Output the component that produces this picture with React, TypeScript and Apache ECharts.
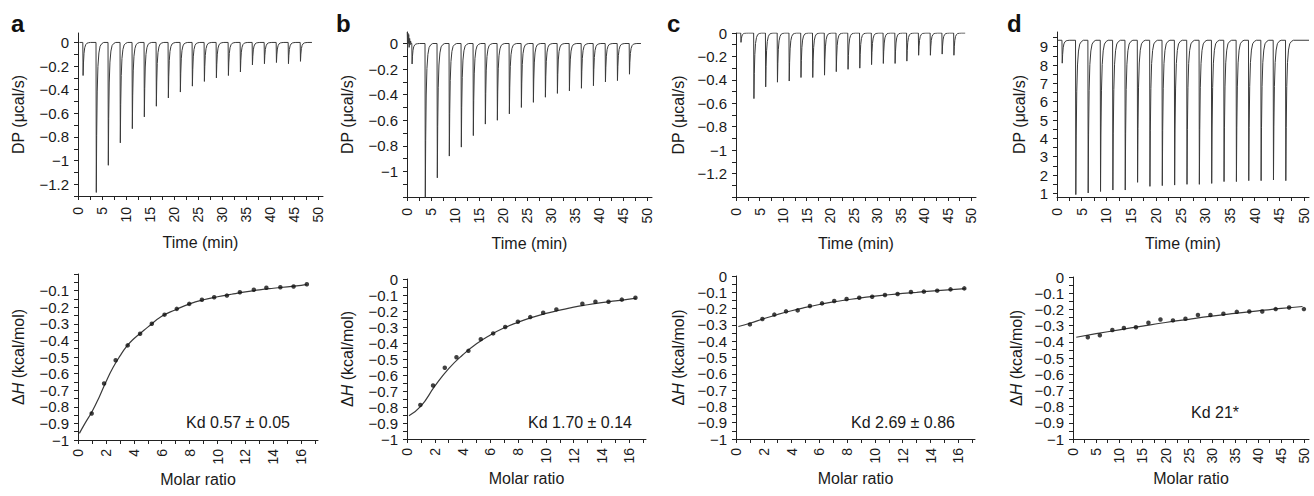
import React, { useEffect, useRef } from "react";
import * as echarts from "echarts";

// ---------- thermogram data (top row) ----------
const INJ_TIMES = [1.0, 3.75, 6.25, 8.75, 11.25, 13.75, 16.25, 18.75, 21.25, 23.75, 26.25, 28.75, 31.25, 33.75, 36.25, 38.75, 41.25, 43.75, 46.25];
const PEAKS_A = [-0.28, -1.27, -1.04, -0.85, -0.73, -0.63, -0.54, -0.47, -0.42, -0.37, -0.33, -0.3, -0.28, -0.25, -0.19, -0.18, -0.17, -0.18, -0.16];
const PEAKS_B = [-0.16, -1.22, -1.05, -0.88, -0.81, -0.72, -0.63, -0.6, -0.55, -0.5, -0.46, -0.42, -0.39, -0.37, -0.35, -0.33, -0.3, -0.29, -0.24];
const PEAKS_C = [-0.08, -0.56, -0.46, -0.42, -0.41, -0.38, -0.38, -0.36, -0.33, -0.31, -0.3, -0.27, -0.26, -0.26, -0.24, -0.19, -0.19, -0.18, -0.19];
const PEAKS_D = [8.1, 0.93, 1.02, 1.1, 1.18, 1.18, 1.6, 1.38, 1.42, 1.45, 1.49, 1.49, 1.54, 1.64, 1.64, 1.69, 1.69, 1.73, 1.69];
const BASE_D = 9.35;
const NOISE_B_T = [0.05, 0.12, 0.2, 0.28, 0.36, 0.45, 0.55, 0.65, 0.75, 0.85];
const NOISE_B_V = [0.09, -0.04, 0.08, 0.0, 0.07, -0.03, 0.04, -0.01, 0.02, 0.0];
// relative shape of one injection peak (minutes after injection, fraction of peak)
const SPIKE_DT = [0, 0.06, 0.14, 0.25, 0.4, 0.6, 0.85, 1.2, 1.6];
const SPIKE_FRAC = [0, 1, 0.62, 0.33, 0.16, 0.07, 0.025, 0.008, 0];

// ---------- binding isotherm data (bottom row) ----------
const MR_A = [0.98, 1.87, 2.7, 3.56, 4.45, 5.29, 6.2, 7.08, 7.97, 8.88, 9.76, 10.67, 11.6, 12.6, 13.5, 14.5, 15.45, 16.4];
const DH_A = [-0.84, -0.66, -0.52, -0.43, -0.36, -0.3, -0.245, -0.21, -0.18, -0.155, -0.14, -0.13, -0.11, -0.095, -0.083, -0.08, -0.075, -0.062];
const FIT_A_X = [0.1, 0.5, 1, 1.5, 2, 2.5, 3, 3.5, 4, 4.5, 5, 6, 7, 8, 9, 10, 11, 12, 13, 14, 15, 16, 16.4];
const FIT_A_Y = [-0.96, -0.9, -0.83, -0.745, -0.65, -0.565, -0.495, -0.435, -0.39, -0.355, -0.32, -0.255, -0.215, -0.18, -0.155, -0.137, -0.122, -0.108, -0.096, -0.086, -0.077, -0.068, -0.064];

const MR_B = [0.96, 1.875, 2.72, 3.56, 4.42, 5.31, 6.2, 7.07, 7.98, 8.87, 9.8, 10.75, 12.62, 13.56, 14.5, 15.46, 16.44];
const DH_B = [-0.787, -0.666, -0.555, -0.489, -0.449, -0.376, -0.34, -0.3, -0.267, -0.238, -0.211, -0.19, -0.155, -0.142, -0.142, -0.129, -0.117];
const FIT_B_X = [0.14, 1, 2, 3, 4, 5, 6, 7, 8, 9, 10, 11, 12, 13, 14, 15, 16, 16.5];
const FIT_B_Y = [-0.855, -0.795, -0.67, -0.56, -0.475, -0.405, -0.35, -0.305, -0.27, -0.24, -0.215, -0.195, -0.176, -0.161, -0.148, -0.137, -0.126, -0.12];

const MR_C = [1.0, 1.9, 2.76, 3.6, 4.44, 5.32, 6.19, 7.07, 7.96, 8.87, 9.8, 10.72, 11.63, 12.59, 13.52, 14.48, 15.44, 16.43];
const DH_C = [-0.297, -0.264, -0.237, -0.217, -0.211, -0.184, -0.168, -0.153, -0.141, -0.133, -0.127, -0.117, -0.11, -0.098, -0.096, -0.09, -0.082, -0.076];
const FIT_C_X = [0.17, 1, 2, 3, 4, 5, 6, 7, 8, 9, 10, 11, 12, 13, 14, 15, 16, 16.5];
const FIT_C_Y = [-0.31, -0.29, -0.262, -0.236, -0.213, -0.193, -0.175, -0.159, -0.146, -0.134, -0.124, -0.115, -0.107, -0.1, -0.093, -0.087, -0.081, -0.078];

const MR_D = [3.2, 5.8, 8.5, 11.0, 13.6, 16.3, 18.9, 21.6, 24.3, 27.0, 29.7, 32.5, 35.4, 38.1, 40.9, 43.8, 46.7, 49.9];
const DH_D = [-0.372, -0.36, -0.327, -0.315, -0.31, -0.282, -0.262, -0.268, -0.258, -0.235, -0.235, -0.227, -0.215, -0.213, -0.213, -0.198, -0.188, -0.198];
const FIT_D_X = [0.7, 5, 10, 15, 20, 25, 30, 35, 40, 45, 49.6];
const FIT_D_Y = [-0.372, -0.35, -0.326, -0.303, -0.281, -0.261, -0.242, -0.225, -0.209, -0.194, -0.182];

// ---------- tick labels ----------
const TIME_LABELS = [0, 5, 10, 15, 20, 25, 30, 35, 40, 45, 50];
const MOLAR_LABELS = [0, 2, 4, 6, 8, 10, 12, 14, 16];
const MOLAR_D_LABELS = [0, 5, 10, 15, 20, 25, 30, 35, 40, 45, 50];
const DP_A_LABELS = [0, -0.2, -0.4, -0.6, -0.8, -1, -1.2];
const DP_B_LABELS = [0, -0.2, -0.4, -0.6, -0.8, -1];
const DP_C_LABELS = [0, -0.2, -0.4, -0.6, -0.8, -1, -1.2];
const DP_D_LABELS = [1, 2, 3, 4, 5, 6, 7, 8, 9];
const DH_LABELS_A = [-0.1, -0.2, -0.3, -0.4, -0.5, -0.6, -0.7, -0.8, -0.9, -1];
const DH_LABELS = [0, -0.1, -0.2, -0.3, -0.4, -0.5, -0.6, -0.7, -0.8, -0.9, -1];

const TEXT = "#1a1a1a";
const AXIS = "#222";
const TRACE = "#3a3a3a";
const FONT = '"Liberation Sans", Arial, Helvetica, sans-serif';
const XTICK_FS = 14;
const YTICK_FS = 15;
const NAME_FS = 16;

function steps(a: number, b: number, s: number) {
  const out: number[] = [];
  for (let k = 0; a + k * s <= b + 1e-9; k++) out.push(+(a + k * s).toFixed(4));
  return out;
}

function fmt(v: number) {
  if (Math.abs(v) < 1e-9) return "0";
  const s = String(+Math.abs(v).toFixed(2));
  return v < 0 ? "\u2212" + s : s;
}

function thermogram(peaks: number[], base: number, start: number, end: number, preT: number[] = [], preV: number[] = [], absolute = false) {
  const pts: number[][] = [];
  preT.forEach((t, i) => pts.push([t, base + preV[i]]));
  pts.push([start, base]);
  INJ_TIMES.forEach((t0, i) => {
    const depth = absolute ? peaks[i] - base : peaks[i];
    SPIKE_DT.forEach((d, k) => pts.push([t0 + d, base + depth * SPIKE_FRAC[k]]));
  });
  pts.push([end, base]);
  return pts;
}

function zip(xs: number[], ys: number[]) {
  return xs.map((x, i) => [x, ys[i]]);
}

function xAx(gridIndex: number, min: number, max: number, labels: number[], ticks: number[], name: string, nameGap: number, margin: number) {
  return {
    type: "value", gridIndex, min, max, name, nameLocation: "middle", nameGap,
    nameTextStyle: { fontSize: NAME_FS, color: TEXT, fontFamily: FONT },
    axisLine: { show: true, onZero: false, lineStyle: { color: AXIS, width: 1 } },
    axisTick: { show: true, customValues: ticks, length: 4, lineStyle: { color: AXIS, width: 1 } },
    axisLabel: { customValues: labels, rotate: 90, margin, fontSize: XTICK_FS, color: TEXT, fontFamily: FONT, formatter: fmt },
    splitLine: { show: false },
  };
}

function yAx(gridIndex: number, min: number, max: number, labels: number[], ticks: number[], name: string, nameGap: number, rich?: any) {
  return {
    type: "value", gridIndex, min, max, name, nameLocation: "middle", nameGap,
    nameTextStyle: { fontSize: NAME_FS, color: TEXT, fontFamily: FONT, rich },
    axisLine: { show: true, onZero: false, lineStyle: { color: AXIS, width: 1 } },
    axisTick: { show: true, customValues: ticks, length: 4, lineStyle: { color: AXIS, width: 1 } },
    axisLabel: { customValues: labels, margin: 9, fontSize: YTICK_FS, color: TEXT, fontFamily: FONT, formatter: fmt },
    splitLine: { show: false },
  };
}

const DH_NAME = "{n|\u0394}{i|H}{n| (kcal/mol)}";
const DH_RICH = {
  n: { fontSize: NAME_FS, color: TEXT, fontFamily: FONT },
  i: { fontSize: NAME_FS, color: TEXT, fontFamily: FONT, fontStyle: "italic" },
};
const DP_NAME = "DP (\u03bccal/s)";

export default function App() {
  const ref = useRef<HTMLDivElement>(null);
  useEffect(() => {
    if (!ref.current) return;
    const chart = echarts.init(ref.current, undefined, { renderer: "svg" });
    const grids = [
      { left: 78, top: 33, width: 245, height: 163 },
      { left: 407, top: 32, width: 245, height: 165 },
      { left: 736, top: 33, width: 240, height: 164 },
      { left: 1057, top: 32, width: 252, height: 165 },
      { left: 78, top: 274, width: 240, height: 166 },
      { left: 407, top: 279, width: 239, height: 160 },
      { left: 736, top: 276, width: 239, height: 163 },
      { left: 1073, top: 277, width: 236, height: 162 },
    ].map((g) => ({ ...g, outerBoundsMode: "none", containLabel: false }));

    const timeTicks = steps(0, 50, 2.5);
    const molarTicks = steps(0, 17, 1);
    const molarDTicks = steps(0, 50, 2.5);
    const dhTicks = steps(-1, 0, 0.05);

    const xAxis = [
      xAx(0, 0, 51, TIME_LABELS, timeTicks, "Time (min)", 38, 11),
      xAx(1, 0, 51, TIME_LABELS, timeTicks, "Time (min)", 38, 11),
      xAx(2, 0, 51, TIME_LABELS, timeTicks, "Time (min)", 38, 11),
      xAx(3, 0, 51, TIME_LABELS, timeTicks, "Time (min)", 38, 11),
      xAx(4, 0, 17.2, MOLAR_LABELS, molarTicks, "Molar ratio", 31, 9),
      xAx(5, 0, 17.2, MOLAR_LABELS, molarTicks, "Molar ratio", 31, 9),
      xAx(6, 0, 17.2, MOLAR_LABELS, molarTicks, "Molar ratio", 31, 9),
      xAx(7, 0, 51, MOLAR_D_LABELS, molarDTicks, "Molar ratio", 31, 9),
    ];
    const yAxis = [
      yAx(0, -1.3, 0.08, DP_A_LABELS, steps(-1.3, 0, 0.1), DP_NAME, 52),
      yAx(1, -1.2, 0.09, DP_B_LABELS, steps(-1.2, 0, 0.1), DP_NAME, 52),
      yAx(2, -1.4, 0, DP_C_LABELS, steps(-1.4, 0, 0.1), DP_NAME, 50),
      yAx(3, 0.8, 9.8, DP_D_LABELS, steps(1, 9.5, 0.5), DP_NAME, 30),
      yAx(4, -1, 0, DH_LABELS_A, dhTicks, DH_NAME, 52, DH_RICH),
      yAx(5, -1, 0, DH_LABELS, dhTicks, DH_NAME, 52, DH_RICH),
      yAx(6, -1, 0, DH_LABELS, dhTicks, DH_NAME, 50, DH_RICH),
      yAx(7, -1, 0, DH_LABELS, dhTicks, DH_NAME, 49, DH_RICH),
    ];

    const trace = (i: number, data: number[][]) => ({
      type: "line", xAxisIndex: i, yAxisIndex: i, data, showSymbol: false, symbol: "none",
      lineStyle: { color: TRACE, width: 1 }, silent: true, clip: true,
    });
    const fit = (i: number, data: number[][]) => ({
      type: "line", xAxisIndex: i, yAxisIndex: i, data, smooth: true, showSymbol: false, symbol: "none",
      lineStyle: { color: TRACE, width: 1.2 }, silent: true, z: 2,
    });
    const dots = (i: number, data: number[][]) => ({
      type: "scatter", xAxisIndex: i, yAxisIndex: i, data, symbol: "circle", symbolSize: 4.5,
      itemStyle: { color: "#111" }, silent: true, z: 3,
    });

    const series = [
      trace(0, thermogram(PEAKS_A, 0, 0.3, 48.7)),
      trace(1, thermogram(PEAKS_B, 0, 0.95, 48.7, NOISE_B_T, NOISE_B_V)),
      trace(2, thermogram(PEAKS_C, 0, 0.2, 48.7)),
      trace(3, thermogram(PEAKS_D, BASE_D, 0.1, 51, [], [], true)),
      fit(4, zip(FIT_A_X, FIT_A_Y)), dots(4, zip(MR_A, DH_A)),
      fit(5, zip(FIT_B_X, FIT_B_Y)), dots(5, zip(MR_B, DH_B)),
      fit(6, zip(FIT_C_X, FIT_C_Y)), dots(6, zip(MR_C, DH_C)),
      fit(7, zip(FIT_D_X, FIT_D_Y)), dots(7, zip(MR_D, DH_D)),
    ];

    const letter = (t: string, x: number) => ({
      type: "text", x, y: 23,
      style: { text: t, fontSize: 24, fontWeight: "bold", fontFamily: FONT, fill: "#111", align: "left", verticalAlign: "middle" },
    });
    const kd = (t: string, x: number, y: number) => ({
      type: "text", x, y,
      style: { text: t, fontSize: 16, fontFamily: FONT, fill: TEXT, align: "center", verticalAlign: "middle" },
    });

    chart.setOption({
      animation: false,
      backgroundColor: "#fff",
      grid: grids,
      xAxis,
      yAxis,
      series,
      graphic: [
        letter("a", 11), letter("b", 336), letter("c", 667), letter("d", 1007),
        kd("Kd 0.57 \u00b1 0.05", 238, 422),
        kd("Kd 1.70 \u00b1 0.14", 580, 422),
        kd("Kd 2.69 \u00b1 0.86", 903, 422),
        kd("Kd 21*", 1215, 412),
      ],
    });
    return () => chart.dispose();
  }, []);
  return <div ref={ref} style={{ position: "absolute", left: 0, top: 0, width: 1314, height: 496 }} />;
}
